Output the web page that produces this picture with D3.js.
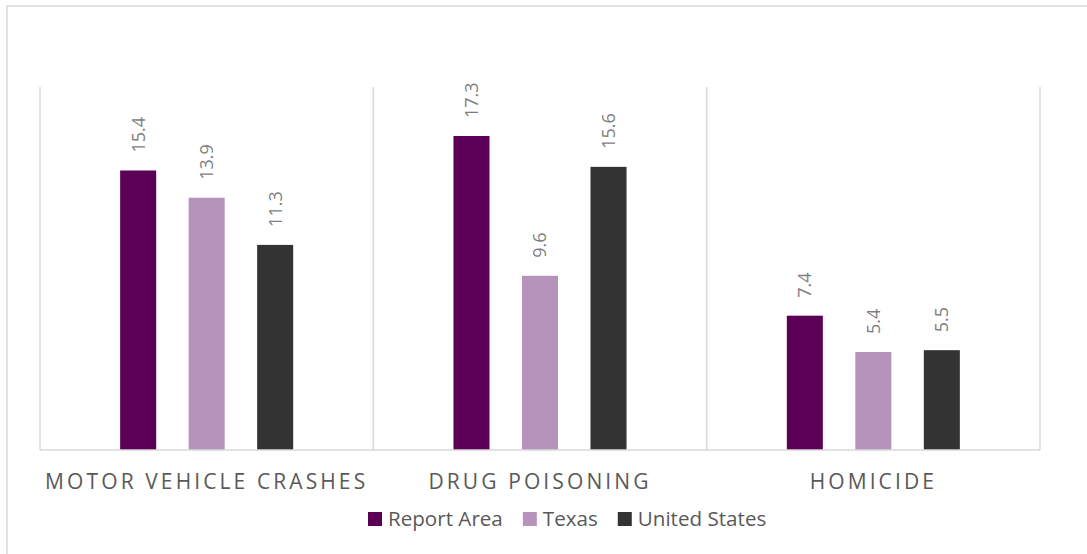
<!DOCTYPE html>
<html>
<head>
<meta charset="utf-8">
<script src="https://cdn.jsdelivr.net/npm/d3@7"></script>
<style>
  html, body { margin: 0; padding: 0; background: #ffffff; }
  svg { display: block; }
  text { font-family: "Open Sans", "Noto Sans", sans-serif; }
</style>
</head>
<body>
<svg id="chart" width="1087" height="554"></svg>
<script>
const categories = ["MOTOR VEHICLE CRASHES", "DRUG POISONING", "HOMICIDE"];
const seriesNames = ["Report Area", "Texas", "United States"];
const reportArea = [15.4, 17.3, 7.4];
const texas = [13.9, 9.6, 5.4];
const unitedStates = [11.3, 15.6, 5.5];
const seriesColors = ["#5c0057", "#b593ba", "#333333"];
const yMax = 20;

const seriesValues = [reportArea, texas, unitedStates];
const data = categories.map((c, i) => ({
  category: c,
  values: seriesNames.map((s, j) => ({ series: s, value: seriesValues[j][i] }))
}));

const svg = d3.select("#chart");
const W = 1087, H = 554;
const plot = { left: 40, right: 1040, top: 87, bottom: 450 };

// outer frame (extends beyond right/bottom edges)
svg.append("rect")
  .attr("x", 7).attr("y", 6)
  .attr("width", W + 20).attr("height", H + 20)
  .attr("fill", "none").attr("stroke", "#d9d9d9").attr("stroke-width", 1.5);

const x0 = d3.scaleBand().domain(categories).range([plot.left, plot.right]).padding(0);
const x1 = d3.scaleBand().domain(seriesNames).range([0, x0.bandwidth()])
  .paddingInner(0.474).paddingOuter(1.17);
const y = d3.scaleLinear().domain([0, yMax]).range([plot.bottom, plot.top]);
const color = d3.scaleOrdinal().domain(seriesNames).range(seriesColors);

// category separator gridlines
const bounds = categories.map(c => x0(c)).concat([x0(categories[categories.length - 1]) + x0.bandwidth()]);
svg.append("g").selectAll("line").data(bounds).join("line")
  .attr("x1", d => d).attr("x2", d => d)
  .attr("y1", plot.top).attr("y2", plot.bottom)
  .attr("stroke", "#d9d9d9").attr("stroke-width", 1.5);

// bars
const groups = svg.append("g").selectAll("g").data(data).join("g")
  .attr("transform", d => `translate(${x0(d.category)},0)`);

groups.selectAll("rect").data(d => d.values).join("rect")
  .attr("x", d => x1(d.series))
  .attr("width", x1.bandwidth())
  .attr("y", d => y(d.value))
  .attr("height", d => y(0) - y(d.value))
  .attr("fill", d => color(d.series));

// data labels (rotated)
groups.selectAll("text").data(d => d.values).join("text")
  .attr("transform", d => `translate(${x1(d.series) + x1.bandwidth() / 2},${y(d.value) - 18}) rotate(-90)`)
  .attr("dy", "0.36em")
  .attr("text-anchor", "start")
  .attr("font-size", 18)
  .attr("fill", "#7f7f7f")
  .text(d => d.value.toFixed(1));

// baseline
svg.append("line")
  .attr("x1", plot.left).attr("x2", plot.right)
  .attr("y1", plot.bottom).attr("y2", plot.bottom)
  .attr("stroke", "#d9d9d9").attr("stroke-width", 1.5);

// category axis labels
const xAxis = d3.axisBottom(x0).tickSize(0).tickPadding(0);
const ax = svg.append("g").attr("transform", `translate(0,${plot.bottom})`).call(xAxis);
ax.select(".domain").remove();
ax.selectAll("text")
  .attr("y", 39).attr("dy", 0)
  .attr("font-size", 21)
  .attr("font-family", "\"Open Sans\", sans-serif")
  .attr("letter-spacing", "3.1px")
  .attr("fill", "#595959");

// legend
const legend = svg.append("g");
const legendY = 526;
const items = legend.selectAll("g").data(seriesNames).join("g");
items.append("rect").attr("width", 14).attr("height", 14).attr("y", legendY - 14)
  .attr("fill", d => color(d));
items.append("text").attr("x", 20).attr("y", legendY)
  .attr("font-size", 20.6).attr("fill", "#595959").text(d => d);
let widths = [];
items.each(function () { widths.push(20 + this.querySelector("text").getComputedTextLength()); });
const gap = 20;
let cx = 368;
items.attr("transform", (d, i) => { const t = `translate(${cx},0)`; cx += widths[i] + gap; return t; });
</script>
</body>
</html>
